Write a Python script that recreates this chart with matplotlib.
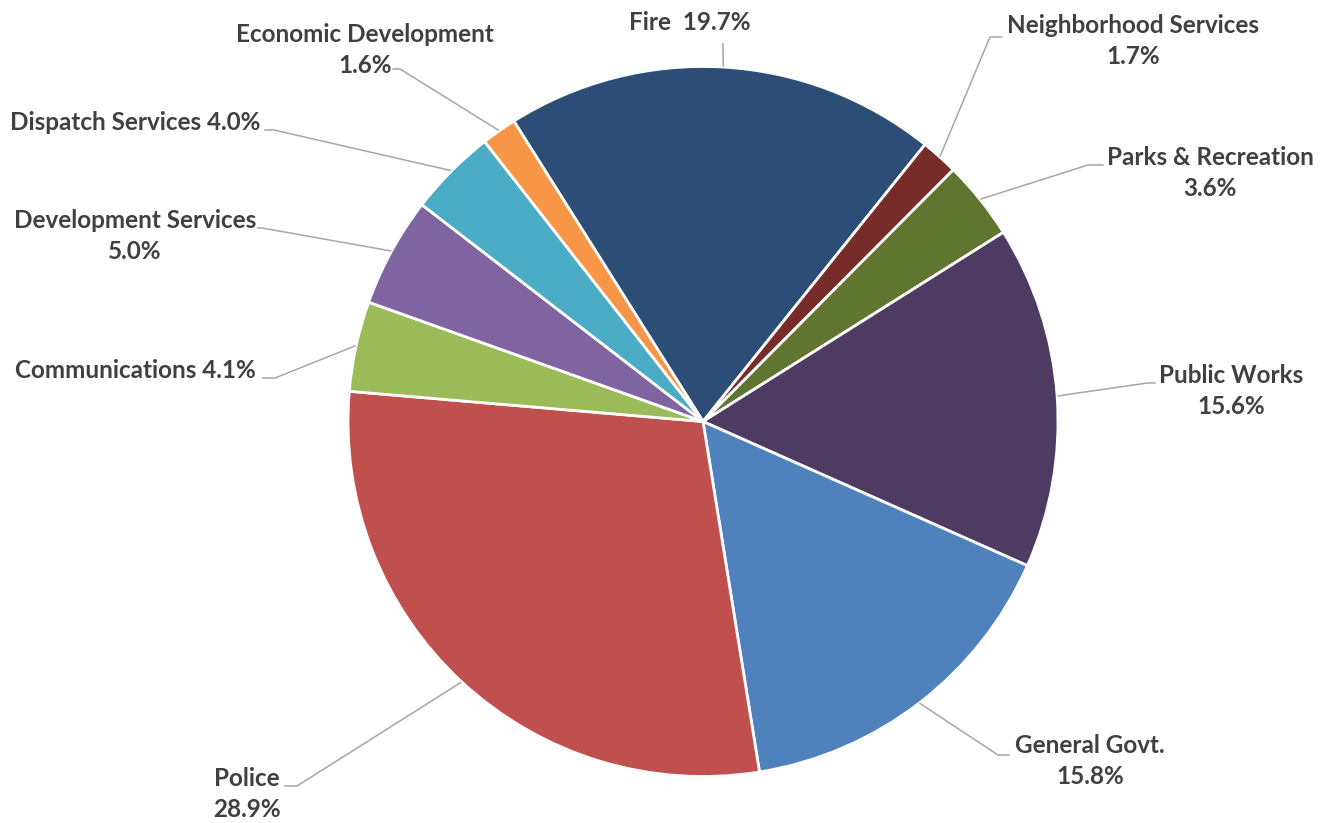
import numpy as np
import matplotlib.pyplot as plt

# Budget share by department, clockwise from the top
departments = ['Fire', 'Neighborhood Services', 'Parks & Recreation', 'Public Works',
               'General Govt.', 'Police', 'Communications', 'Development Services',
               'Dispatch Services', 'Economic Development']
shares = [19.7, 1.7, 3.6, 15.6, 15.8, 28.9, 4.1, 5.0, 4.0, 1.6]
colors = ['#2C4D75', '#772C2A', '#5F7530', '#4D3B62', '#4F81BD',
          '#C0504D', '#9BBB59', '#8064A2', '#4BACC6', '#F79646']

# label text layout: separator between name and value
separators = ['  ', '\n', '\n', '\n', '\n', '\n', ' ', '\n', ' ', '\n']

W, H = 1328, 823

def px(x, y):
    # pixel position (y measured from top) -> data coords
    return x, H - y

# label centre, leader elbow, leader end (pixels from top-left)
label_pos = [(690, 22), (1133, 41), (1210, 173), (1231, 391), (1090, 761),
             (247, 794), (135, 370), (135, 236), (135, 122), (365, 50)]
elbows = [(723, 44), (990, 37), (1088, 165), (1147, 383), (998, 755),
          (297, 786), (275, 378), (262, 228), (274, 130), (400, 69)]
line_ends = [(723, 44), (1002, 37), (1103, 165), (1155, 383), (1009, 755),
             (285, 786), (263, 378), (258, 228), (265, 130), (393, 69)]

cx, cy = px(703, 421.5)
radius = 355

fig = plt.figure(figsize=(W / 100, H / 100), dpi=100)
ax = fig.add_axes([0, 0, 1, 1])

wedges, _ = ax.pie(shares, colors=colors, startangle=122.2, counterclock=False,
                   center=(cx, cy), radius=radius,
                   wedgeprops=dict(edgecolor='white', linewidth=2))

ax.set_xlim(0, W)
ax.set_ylim(0, H)
ax.set_aspect('equal')
ax.axis('off')

for i, w in enumerate(wedges):
    mid = np.deg2rad((w.theta1 + w.theta2) / 2)
    sx = cx + (radius + 1) * np.cos(mid)
    sy = cy + (radius + 1) * np.sin(mid)
    ex, ey = px(*elbows[i])
    tx, ty = px(*line_ends[i])
    ax.plot([sx, ex, tx], [sy, ey, ty], color='#A6A6A6', lw=1.1,
            solid_joinstyle='miter', zorder=1)

    lx, ly = px(*label_pos[i])
    ax.text(lx, ly, f'{departments[i]}{separators[i]}{shares[i]:.1f}%',
            ha='center', va='center', multialignment='center',
            fontsize=17.5, fontweight='bold', family='Lato', color='#404040',
            linespacing=1.4)

fig.savefig('out.png', dpi=100)
